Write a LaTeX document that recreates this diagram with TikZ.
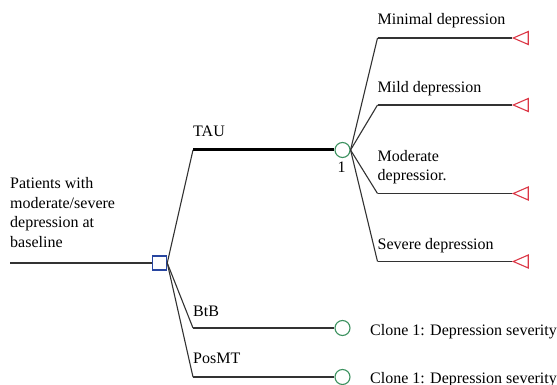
\documentclass[tikz,border=0pt]{standalone}
\usepackage{fontspec}
\setmainfont{Liberation Serif}
\usetikzlibrary{shapes.geometric}
\definecolor{decblue}{RGB}{40,70,160}
\definecolor{chgreen}{RGB}{60,145,95}
\definecolor{endred}{RGB}{220,55,70}
\definecolor{linegray}{RGB}{50,50,50}
\begin{document}
\begin{tikzpicture}[x=1pt,y=-1pt,
                    branch/.style={draw=linegray,line width=1.1pt},
                    decision node/.style={rectangle,draw=decblue,fill=white,line width=1.1pt,minimum size=14pt,inner sep=0pt},
                    chance node/.style={circle,draw=chgreen,fill=white,line width=1.1pt,minimum size=15pt,inner sep=0pt},
                    end node/.style={isosceles triangle,isosceles triangle stretches,shape border rotate=180,draw=endred,fill=white,line width=1.1pt,minimum width=13pt,minimum height=15pt,inner sep=0pt},
                    txt/.style={inner sep=0pt,font=\fontsize{16}{19.6}\selectfont,align=left}]
  \useasboundingbox (0,0) rectangle (557,385);
  %decision%
  \coordinate (root) at (10,263);
  \node[decision node] (dec) at (159.7,263) {};
  \node[txt,anchor=north west] (patients) at (10,177.4) {Patients with\\moderate/severe\\depression at\\baseline};
  %strategies%
  \coordinate (tau) at (193,150);
  \coordinate (btb) at (193,328);
  \coordinate (posmt) at (193,377);
  \node[chance node] (c1) at (342.5,150) {};
  \node[chance node] (c2) at (342.5,328) {};
  \node[chance node] (c3) at (342.5,377) {};
  \node[txt,anchor=base west] (taulab) at (193,136.7) {TAU};
  \node[txt,anchor=base west] (btblab) at (193,316.7) {BtB};
  \node[txt,anchor=base west] (posmtlab) at (193,363.5) {PosMT};
  \node[txt,anchor=base] (one) at (341.5,172) {1};
  \node[txt,anchor=base west] (clone1) at (370,335) {Clone 1: Depression severity};
  \node[txt,anchor=base west] (clone2) at (370,383) {Clone 1: Depression severity};
  %outcomes%
  \coordinate (mini) at (377.5,38);
  \coordinate (mild) at (377.5,105);
  \coordinate (mod) at (377.5,193.5);
  \coordinate (sev) at (377.5,261.5);
  \node[end node] (t1) at (524,38) {};
  \node[end node] (t2) at (524,105) {};
  \node[end node] (t3) at (524,193.5) {};
  \node[end node] (t4) at (524,261.5) {};
  \node[txt,anchor=base west] (minilab) at (377.5,25) {Minimal depression};
  \node[txt,anchor=base west] (mildlab) at (377.5,93) {Mild depression};
  \node[txt,anchor=north west] (modlab) at (377.5,150) {Moderate\\depressior.};
  \node[txt,anchor=base west] (sevlab) at (377.5,249.3) {Severe depression};

  \path[branch]
    (root) edge (dec)
    (dec.east) edge (tau)
    (dec.east) edge (btb)
    (dec.east) edge (posmt)
    (btb) edge (c2)
    (posmt) edge (c3)
    (c1.east) edge (mini)
    (c1.east) edge (mild)
    (c1.east) edge (mod)
    (c1.east) edge (sev)
    (mini) edge (t1)
    (mild) edge (t2)
    (mod) edge (t3)
    (sev) edge (t4);
  \draw[line width=3pt,black] (tau) -- (c1);
\end{tikzpicture}
\end{document}
